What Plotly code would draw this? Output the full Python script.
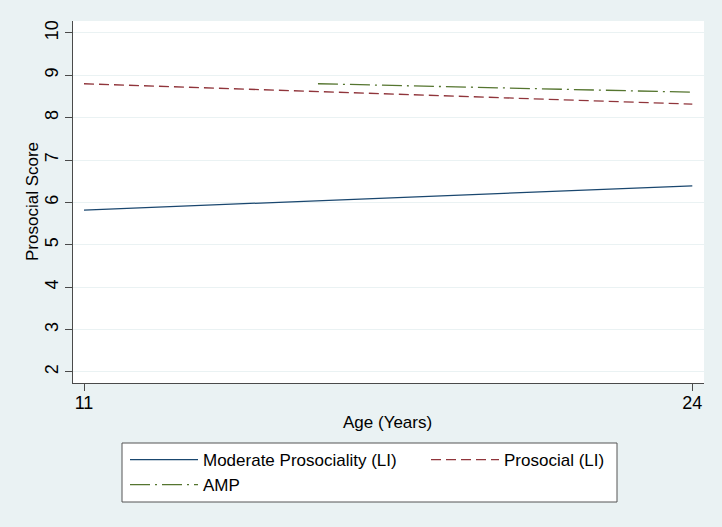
import plotly.graph_objects as go

# Data
age_li = [11, 24]
moderate_li = [5.82, 6.39]
prosocial_li = [8.80, 8.32]
age_amp = [16, 24]
amp = [8.80, 8.60]

y_ticks = [2, 3, 4, 5, 6, 7, 8, 9, 10]
x_ticks = [11, 24]

x_title = "Age (Years)"
y_title = "Prosocial Score"

BG = "#EAF2F3"
AX = "#4a4a4a"
FONT = "Liberation Sans, Arial, Helvetica, sans-serif"
W, H = 722, 527
L, R, T, B = 73, 18, 21, 144
PW, PH = W - L - R, H - T - B

fig = go.Figure()
fig.add_trace(go.Scatter(x=age_li, y=moderate_li, mode="lines",
                         name="Moderate Prosociality (LI)", legend="legend",
                         line=dict(color="#1A476F", width=1.3)))
fig.add_trace(go.Scatter(x=age_li, y=prosocial_li, mode="lines",
                         name="Prosocial (LI)", legend="legend2",
                         line=dict(color="#90353B", width=1.3, dash="10px,5px")))
fig.add_trace(go.Scatter(x=age_amp, y=amp, mode="lines",
                         name="AMP", legend="legend",
                         line=dict(color="#55752F", width=1.3, dash="20px,5px,2px,5px")))

leg_common = dict(
    xref="container", yref="container",
    xanchor="left", yanchor="top",
    bgcolor="rgba(0,0,0,0)", borderwidth=0,
    itemwidth=68,
    font=dict(family=FONT, size=17, color="black"),
    traceorder="normal", orientation="v",
)

fig.update_layout(
    template="none",
    width=W, height=H,
    margin=dict(l=L, r=R, t=T, b=B, autoexpand=False),
    paper_bgcolor=BG, plot_bgcolor="white",
    font=dict(family=FONT, size=17, color="black"),
    showlegend=True,
    legend=dict(x=125 / W, y=1 - 442 / H, **leg_common),
    legend2=dict(x=426 / W, y=1 - 442 / H, **leg_common),
    shapes=[dict(
        type="rect", xref="paper", yref="paper", layer="below",
        x0=(122 - L) / PW, x1=(617 - L) / PW,
        y0=(T + PH - 502) / PH, y1=(T + PH - 443) / PH,
        fillcolor="white", line=dict(color="#555555", width=1),
    )],
    annotations=[
        dict(text=x_title, xref="paper", yref="paper",
             x=(387 - L) / PW, y=(T + PH - 422) / PH,
             xanchor="center", yanchor="middle", showarrow=False,
             font=dict(family=FONT, size=17, color="black")),
        dict(text=y_title, xref="paper", yref="paper",
             x=(32 - L) / PW, y=0.5, textangle=-90,
             xanchor="center", yanchor="middle", showarrow=False,
             font=dict(family=FONT, size=17, color="black")),
    ],
    xaxis=dict(
        range=[10.765, 24.25], tickvals=x_ticks, ticktext=[str(v) for v in x_ticks],
        showgrid=False, zeroline=False,
        showline=True, linecolor=AX, linewidth=1,
        ticks="outside", ticklen=7, tickcolor=AX, tickwidth=1,
        tickfont=dict(size=18), ticklabelstandoff=-4,
    ),
    yaxis=dict(
        range=[1.74, 10.28], tickvals=y_ticks,
        showgrid=True, gridcolor=BG, gridwidth=1, zeroline=False,
        showline=True, linecolor=AX, linewidth=1,
        ticks="outside", ticklen=7, tickcolor=AX, tickwidth=1,
        tickangle=-90, tickfont=dict(size=18),
    ),
)

fig.write_html("out.html", config={"displayModeBar": False},
               post_script="document.body.style.margin='0';")
